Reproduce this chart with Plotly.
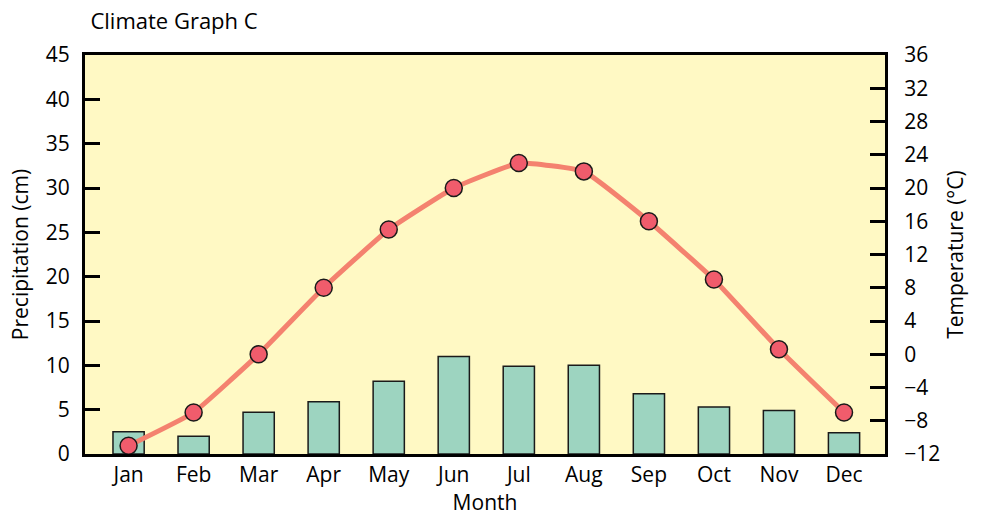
import plotly.graph_objects as go

months = ["Jan", "Feb", "Mar", "Apr", "May", "Jun", "Jul", "Aug", "Sep", "Oct", "Nov", "Dec"]
precip_cm = [2.5, 2.0, 4.7, 5.9, 8.2, 11.0, 9.9, 10.0, 6.8, 5.3, 4.9, 2.4]
temp_c = [-11, -7, 0, 8, 15, 20, 23, 22, 16, 9, 0.6, -7]

FONT = "'Open Sans', Lato, sans-serif"

fig = go.Figure()

fig.add_trace(go.Bar(
    x=months, y=precip_cm, width=0.48,
    marker=dict(color="#9DD4C0", line=dict(color="#1a1a1a", width=1.5)),
    yaxis="y", showlegend=False,
))

fig.add_trace(go.Scatter(
    x=months, y=temp_c, mode="lines+markers", yaxis="y2",
    line=dict(color="#F4826F", width=5, shape="spline", smoothing=0.35),
    marker=dict(size=17, color="#F05C6C", line=dict(color="#1a1a1a", width=1.5)),
    showlegend=False,
))

fig.update_layout(
    width=983, height=517,
    margin=dict(l=85, r=98, t=55, b=63),
    paper_bgcolor="white",
    plot_bgcolor="#FFF9C4",
    font=dict(family=FONT, size=21, color="black"),
    title=dict(text="Climate Graph C", x=0.092, xanchor="left", y=0.958, yanchor="middle",
               font=dict(size=22)),
    bargap=0.5,
    xaxis=dict(
        range=[-0.67, 11.63],
        showline=True, linecolor="black", linewidth=3, mirror=True,
        ticks="", showgrid=False,
        title=dict(text="Month", standoff=0, font=dict(size=21)),
    ),
    yaxis=dict(
        range=[0, 45], dtick=5, tick0=0,
        showline=True, linecolor="black", linewidth=3,
        ticks="inside", ticklen=15, tickwidth=3, tickcolor="black",
        ticklabelstandoff=8,
        showgrid=False, zeroline=False,
        title=dict(text="Precipitation (cm)", standoff=12, font=dict(size=21)),
    ),
    yaxis2=dict(
        range=[-12, 36], dtick=4, tick0=-12,
        overlaying="y", side="right",
        showline=True, linecolor="black", linewidth=3,
        ticks="inside", ticklen=15, tickwidth=3, tickcolor="black",
        ticklabelstandoff=12,
        showgrid=False, zeroline=False,
        title=dict(text="Temperature (°C)", standoff=10, font=dict(size=21)),
    ),
)

fig.write_html("out.html")
